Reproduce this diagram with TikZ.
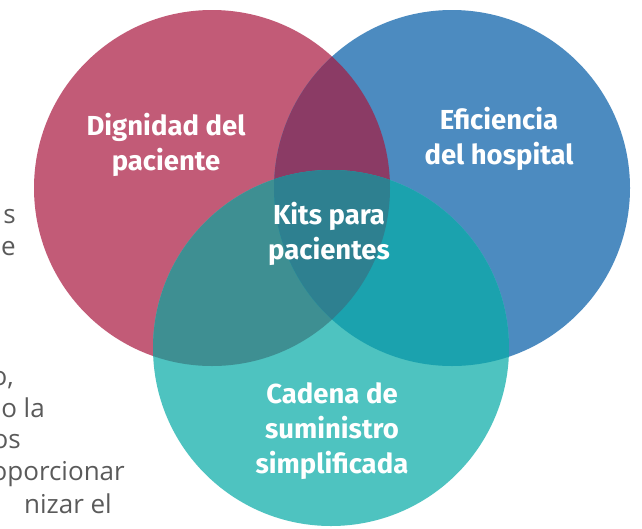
\documentclass[tikz,border=0pt]{standalone}
\usepackage{fontspec}
\setmainfont{Open Sans}
\newfontfamily\vennfont{Fira Sans}
\usepackage{tikz}

\definecolor{dignidad}{HTML}{C25B77}
\definecolor{eficiencia}{HTML}{4C8BC0}
\definecolor{cadena}{HTML}{4EC3C0}
\definecolor{dignEfic}{HTML}{8B3B65}
\definecolor{dignCad}{HTML}{3E8F92}
\definecolor{eficCad}{HTML}{1BA2AE}
\definecolor{kits}{HTML}{2E8090}
\definecolor{bodytext}{HTML}{5A5A5A}

\def\circDignidad{(212,188) circle[radius=178]}
\def\circEficiencia{(452,188) circle[radius=178]}
\def\circCadena{(331,348) circle[radius=178]}

\tikzset{
  vennlabel/.style={text=white,align=center,font=\vennfont\bfseries\fontsize{27.5}{35}\selectfont},
  bodyline/.style={anchor=base east,inner sep=0pt,text=bodytext,font=\fontsize{26}{32}\selectfont}
}

\begin{document}
\begin{tikzpicture}[x=1pt,y=-1pt]
    \useasboundingbox (0,0) rectangle (642,528);
    % texto cortado a la izquierda
    \node[bodyline] (t1) at (16,223) {s};
    \node[bodyline] (t2) at (16,255) {e};
    \node[bodyline] (t3) at (14,385) {o,};
    \node[bodyline] (t4) at (45,417) {o la};
    \node[bodyline] (t5) at (21,448) {os};
    \node[bodyline] (t6) at (125,480) {oporcionar};
    \node[bodyline] (t7) at (112,513) {nizar el};
    % circulos
    \fill[dignidad] \circDignidad;
    \fill[eficiencia] \circEficiencia;
    \fill[cadena] \circCadena;
    % intersecciones
    \begin{scope}
      \clip \circDignidad;
      \fill[dignEfic] \circEficiencia;
      \fill[dignCad] \circCadena;
    \end{scope}
    \begin{scope}
      \clip \circEficiencia;
      \fill[eficCad] \circCadena;
    \end{scope}
    \begin{scope}
      \clip \circDignidad;
      \clip \circEficiencia;
      \fill[kits] \circCadena;
    \end{scope}
    % etiquetas
    \node[vennlabel] (dignidad) at (166,145) {Dignidad del\\paciente};
    \node[vennlabel] (eficiencia) at (499,139) {Eficiencia\\del hospital};
    \node[vennlabel] (kits) at (329,234) {Kits para\\pacientes};
    \node[vennlabel] (cadena) at (332,431) {Cadena de\\suministro\\simplificada};
\end{tikzpicture}
\end{document}
